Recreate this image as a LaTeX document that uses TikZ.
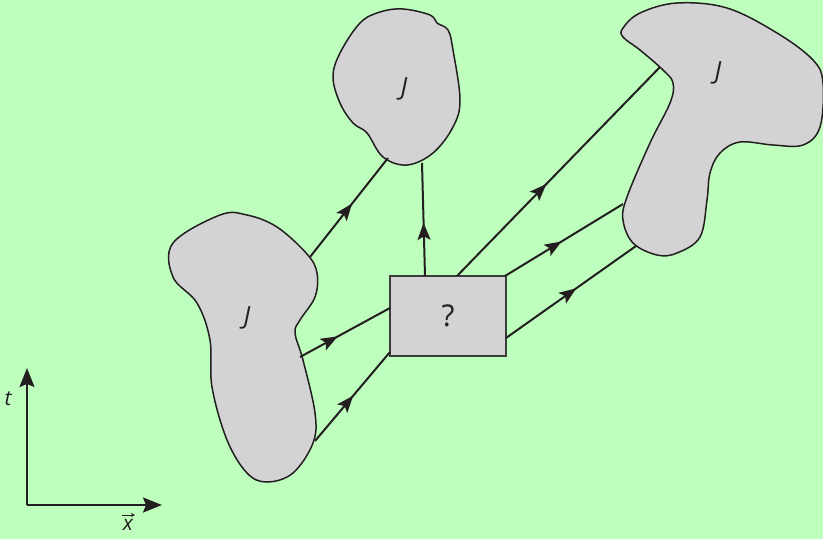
\documentclass[tikz,border=0pt]{standalone}
\usepackage{fontspec}
\setmainfont{Open Sans}
\usetikzlibrary{arrows.meta,decorations.markings}
\definecolor{bg}{RGB}{190,255,190}
\definecolor{blobfill}{RGB}{211,211,213}
\definecolor{ink}{RGB}{35,31,32}
\definecolor{boxline}{RGB}{60,60,60}
\tikzset{
  blob/.style={draw=ink, line width=1.5pt, fill=blobfill},
  wl/.style={draw=ink, line width=2pt},
  midarrow/.style={wl, postaction={decorate}, decoration={markings,
     mark=at position #1 with {\arrow{Stealth[length=17pt,width=13pt,inset=3.5pt]}}}},
  lab/.style={font=\fontsize{25}{28}\selectfont\itshape, text=ink, inner sep=0pt},
  axis/.style={draw=ink, line width=2pt, -{Stealth[length=19pt,width=15pt,inset=3pt]}},
}
\begin{document}
\begin{tikzpicture}[x=1pt,y=-1pt]
\useasboundingbox (0,0) rectangle (823,539);
\fill[bg] (0,0) rectangle (823,539);
% left blob
\path[blob] plot[smooth cycle, tension=0.6] coordinates {
 (220,215) (247,215) (277,227) (307,254) (317,273) (315,297) (300,320) (295,333)
 (303,360) (315,413) (313,443) (293,473) (267,482) (247,473) (227,440) (212,387)
 (210,340) (197,303) (173,277) (173,243)};
% top blob
\path[blob] plot[smooth cycle, tension=0.6] coordinates {
 (380,12) (403,9) (430,15) (437,23) (448,30) (453,50) (460,100) (453,127) (433,153)
 (407,165) (383,157) (367,133) (353,123) (340,103) (333,77) (340,53) (360,23)};
% right blob
\path[blob] plot[smooth cycle, tension=0.6] coordinates {
 (640,13) (677,3) (727,8) (777,33) (813,60) (823,83) (820,127) (803,145) (773,145)
 (740,142) (720,153) (710,173) (707,200) (700,237) (677,253) (657,255) (633,243)
 (623,220) (627,197) (650,143) (670,103) (673,83) (663,70) (640,50) (623,37) (623,28)};
% labels
\node[lab] (jl) at (247,318) {J};
\node[lab] (jt) at (404,89) {J};
\node[lab] (jr) at (718,73) {J};
% box
\node[draw=boxline, line width=1.7pt, fill=blobfill, minimum width=116pt, minimum height=80pt,
  inner sep=0pt, font=\fontsize{30}{34}\selectfont, text=ink] (q) at (448,316) {?};
% attachment coordinates
\coordinate (l1) at (310,257);
\coordinate (l2) at (300,357);
\coordinate (l3) at (315,441);
\coordinate (t1) at (388,158);
\coordinate (t2) at (422,163);
\coordinate (r1) at (660,67);
\coordinate (r2) at (623,204);
\coordinate (r3) at (636,246);
\coordinate (qa) at (390,308);
\coordinate (qb) at (390,352);
\coordinate (qc) at (425,276);
\coordinate (qd) at (457,276);
\coordinate (qe) at (505,276);
\coordinate (qf) at (506,338);
% connectors
\draw[midarrow=0.54] (l1) -- (t1);
\draw[midarrow=0.42] (l2) -- (qa);
\draw[midarrow=0.51] (l3) -- (qb);
\draw[midarrow=0.47] (qc) -- (t2);
\draw[midarrow=0.44] (qd) -- (r1);
\draw[midarrow=0.48] (qe) -- (r2);
\draw[midarrow=0.54] (qf) -- (r3);
% axes
\coordinate (o) at (27,505);
\coordinate (ty) at (27,368);
\coordinate (tx) at (162,505);
\draw[axis] (o) -- (ty);
\draw[axis] (o) -- (tx);
\node[lab, font=\fontsize{21}{24}\selectfont\itshape] (tl) at (8,399) {t};
\node[lab, font=\fontsize{21}{24}\selectfont\itshape] (xl) at (128,525) {x};
\coordinate (va) at (122,515);
\coordinate (vb) at (135,515);
\draw[ink, line width=0.9pt, -{Stealth[length=4pt,width=4pt]}] (va) -- (vb);
\end{tikzpicture}
\end{document}
